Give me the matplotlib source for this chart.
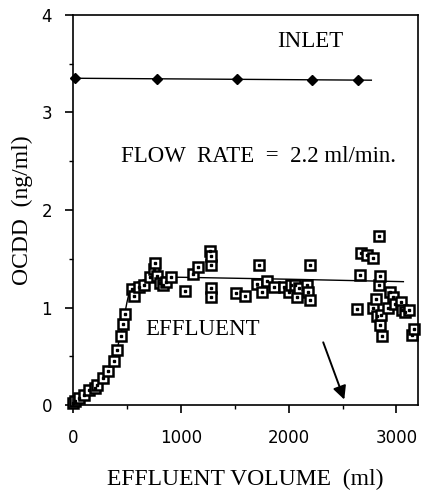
import numpy as np
import matplotlib
matplotlib.use("Agg")
from matplotlib import pyplot as plt
from matplotlib.ticker import MultipleLocator

# inlet concentration
inletX = [20, 777, 1525, 2216, 2643]
inletY = [3.35, 3.34, 3.34, 3.33, 3.33]
inletLineX = [0, 2767]
inletLineY = [3.35, 3.33]

# effluent measurements
effX = [5, 21, 58, 105, 151, 201, 228, 278, 325, 383, 414, 443, 467, 479,
        547, 569, 609, 656, 711, 749, 758, 780, 804, 835, 866, 913,
        1043, 1114, 1157, 1268, 1281, 1284, 1284, 1284,
        1516, 1600, 1708, 1723, 1755, 1801, 1863, 1956, 2002, 2018, 2055,
        2080, 2101, 2166, 2178, 2197, 2203,
        2637, 2661, 2674, 2730, 2786, 2786, 2807, 2823, 2838, 2838, 2847,
        2847, 2853, 2869, 2921, 2940, 2971, 2983, 3039, 3048, 3076, 3116,
        3141, 3163]
effY = [0.02, 0.04, 0.07, 0.10, 0.15, 0.18, 0.21, 0.28, 0.35, 0.45, 0.56, 0.71, 0.83, 0.93,
        1.19, 1.12, 1.21, 1.23, 1.31, 1.39, 1.46, 1.32, 1.25, 1.23, 1.26, 1.31,
        1.17, 1.34, 1.42, 1.58, 1.44, 1.53, 1.20, 1.11,
        1.15, 1.12, 1.24, 1.44, 1.16, 1.27, 1.21, 1.21, 1.16, 1.23, 1.23,
        1.11, 1.20, 1.23, 1.16, 1.08, 1.44,
        0.98, 1.33, 1.56, 1.54, 1.51, 0.99, 1.09, 0.91, 1.73, 1.23, 1.32,
        0.82, 0.92, 0.71, 0.99, 1.16, 1.11, 1.04, 1.06, 0.97, 0.95, 0.97,
        0.72, 0.78]

# fitted breakthrough curve
fitX = [0, 130, 300, 393, 450, 501, 532, 560, 650, 750, 1000, 2000, 3064]
fitY = [0, 0.10, 0.29, 0.50, 0.75, 1.05, 1.20, 1.24, 1.28, 1.31, 1.31, 1.29, 1.265]

serif = ['Liberation Serif', 'DejaVu Serif']

fig = plt.figure(figsize=(4.21, 4.94), dpi=100)
ax = fig.add_axes([0.173, 0.180, 0.820, 0.790])

ax.plot(inletLineX, inletLineY, color='black', lw=1.0)
ax.plot(inletX, inletY, ls='none', marker='D', ms=5.5, color='black', clip_on=False)

ax.plot(fitX, fitY, color='black', lw=1.0)
ax.plot(effX, effY, ls='none', marker='s', ms=7.5, mfc='white', mec='black', mew=1.8, clip_on=False)
ax.plot(effX, effY, ls='none', marker='s', ms=1.6, color='black', clip_on=False)

ax.annotate('', xy=(2525, 0.03), xytext=(2312, 0.67),
            arrowprops=dict(arrowstyle='-|>', color='black', lw=1.4, mutation_scale=20))

ax.text(2197, 3.73, 'INLET', family=serif, fontsize=16.5, ha='center', va='center')
ax.text(1720, 2.55, 'FLOW  RATE  =  2.2 ml/min.', family=serif, fontsize=16.5, ha='center', va='center')
ax.text(1205, 0.77, 'EFFLUENT', family=serif, fontsize=16.5, ha='center', va='center')

ax.set_xlim(0, 3200)
ax.set_ylim(0, 4)
ax.xaxis.set_major_locator(MultipleLocator(1000))
ax.xaxis.set_minor_locator(MultipleLocator(500))
ax.yaxis.set_major_locator(MultipleLocator(1))
ax.yaxis.set_minor_locator(MultipleLocator(0.5))
ax.tick_params(which='major', direction='out', length=6, width=1.2, labelsize=12)
ax.tick_params(axis='x', which='major', pad=11)
ax.tick_params(axis='y', which='major', pad=9)
ax.tick_params(which='minor', direction='out', length=3, width=1.0)
for s in ax.spines.values():
    s.set_linewidth(1.2)

ax.set_xlabel('EFFLUENT VOLUME  (ml)', family=serif, fontsize=17, labelpad=16)
ax.set_ylabel('OCDD  (ng/ml)', family=serif, fontsize=17, labelpad=6)

fig.savefig('out.png', dpi=100)
